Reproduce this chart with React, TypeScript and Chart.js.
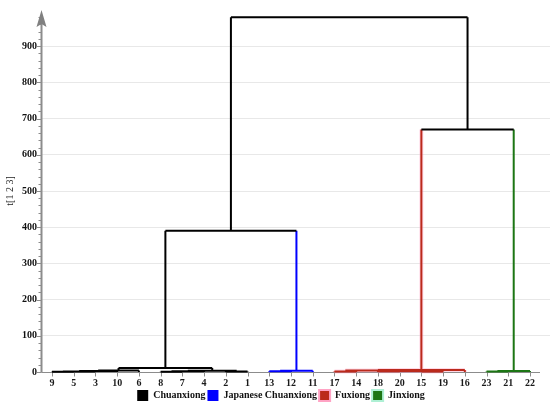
import React, { useEffect, useRef } from "react";
import { Chart, registerables } from "chart.js";

Chart.register(...registerables);

// Leaf order along the x axis (sample numbers)
const leafLabels = ["9", "5", "3", "10", "6", "8", "7", "4", "2", "1", "13", "12", "11", "17", "14", "18", "20", "15", "19", "16", "23", "21", "22"];

// Linkage (node ids < 23 are leaves by position; merge k creates node 23 + k)
const mergeLeft = [0, 23, 24, 25, 5, 27, 8, 28, 26, 10, 32, 13, 15, 17, 35, 34, 38, 20, 40, 31, 39, 42];
const mergeRight = [1, 2, 3, 4, 6, 7, 9, 29, 30, 11, 12, 14, 16, 18, 36, 37, 19, 21, 22, 33, 41, 43];
const mergeHeight = [1, 1.5, 2.5, 4, 1, 2, 1.5, 3.5, 11, 2, 3.5, 1.5, 2, 1.5, 3, 4, 5.5, 1.5, 3, 390, 670, 980];
const mergeGroup = [0, 0, 0, 0, 0, 0, 0, 0, 0, 1, 1, 2, 2, 2, 2, 2, 2, 3, 3, 0, 0, 0];

// Groups / legend
const groupNames = ["Chuanxiong", "Japanese Chuanxiong", "Fuxiong", "Jinxiong"];
const groupColors = ["#000000", "#0000ff", "#bb2a1c", "#1c7614"];
const legendBorders = ["#000000", "#0000ff", "#ffa3c4", "#aef0d4"];

// Axis
const yTickValues = Array.from({ length: 50 }, (_, i) => i * 20);
const yMax = 1000;
const xMin = -0.506;
const xMax = 22.92;
const xAxisEnd = 22.46;

function buildSegments() {
  const n = leafLabels.length;
  const nodeX: number[] = leafLabels.map((_, i) => i);
  const nodeH: number[] = leafLabels.map(() => 0);
  const nodeG: number[] = leafLabels.map(() => -1);
  const segs: { x: number; y: number | null }[][] = groupNames.map(() => []);
  mergeLeft.forEach((l, k) => {
    const r = mergeRight[k];
    const h = mergeHeight[k];
    const g = mergeGroup[k];
    const xl = nodeX[l];
    const xr = nodeX[r];
    const gl = nodeG[l] >= 0 ? nodeG[l] : g;
    const gr = nodeG[r] >= 0 ? nodeG[r] : g;
    segs[gl].push({ x: xl, y: nodeH[l] }, { x: xl, y: h }, { x: xl, y: null });
    segs[g].push({ x: xl, y: h }, { x: xr, y: h }, { x: xr, y: null });
    segs[gr].push({ x: xr, y: nodeH[r] }, { x: xr, y: h }, { x: xr, y: null });
    nodeX[n + k] = (xl + xr) / 2;
    nodeH[n + k] = h;
    nodeG[n + k] = g;
  });
  return segs;
}

const axisPlugin = {
  id: "axisDeco",
  beforeDatasetsDraw(chart: any) {
    const { ctx, chartArea, scales } = chart;
    const x = scales.x;
    const y = scales.y;
    const y0 = Math.round(y.getPixelForValue(0)) + 0.5;
    const left = Math.round(chartArea.left) + 0.5;
    ctx.save();
    ctx.strokeStyle = "#8c8c8c";
    ctx.lineWidth = 1;
    ctx.beginPath();
    ctx.moveTo(left, y0);
    ctx.lineTo(x.getPixelForValue(xAxisEnd), y0);
    leafLabels.forEach((_, i) => {
      const px = Math.round(x.getPixelForValue(i)) + 0.5;
      ctx.moveTo(px, y0);
      ctx.lineTo(px, y0 + 4);
    });
    y.ticks.forEach((t: any) => {
      const py = Math.round(y.getPixelForValue(t.value)) + 0.5;
      const len = t.value % 100 === 0 ? 5 : 3;
      ctx.moveTo(left - len, py);
      ctx.lineTo(left, py);
    });
    ctx.stroke();
    ctx.lineWidth = 2;
    ctx.beginPath();
    ctx.moveTo(left, y0);
    ctx.lineTo(left, chartArea.top + 14);
    ctx.stroke();
    ctx.fillStyle = "#808080";
    ctx.beginPath();
    ctx.moveTo(left, chartArea.top);
    ctx.lineTo(left - 5, chartArea.top + 17);
    ctx.lineTo(left, chartArea.top + 14);
    ctx.lineTo(left + 5, chartArea.top + 17);
    ctx.closePath();
    ctx.fill();
    ctx.restore();
  },
};

export default function App() {
  const canvasRef = useRef<HTMLCanvasElement | null>(null);

  useEffect(() => {
    if (!canvasRef.current) return;
    const segs = buildSegments();
    const serif = "'Liberation Serif', 'Times New Roman', serif";
    const datasets: any[] = segs.map((data, g) => ({
      label: groupNames[g],
      data,
      borderColor: groupColors[g],
      backgroundColor: groupColors[g],
      borderWidth: 2,
      pointRadius: 0,
      spanGaps: false,
      tension: 0,
      clip: false,
      order: 0,
    }));
    datasets.push({
      label: "halo",
      data: segs[2],
      borderColor: "rgba(255,160,195,0.4)",
      borderWidth: 4,
      pointRadius: 0,
      spanGaps: false,
      clip: false,
      order: 10,
    });

    const chart = new Chart(canvasRef.current, {
      type: "line",
      data: { datasets },
      options: {
        animation: false,
        responsive: false,
        events: [],
        layout: { padding: { left: 12, right: 0, top: 8, bottom: 0 } },
        plugins: {
          tooltip: { enabled: false },
          legend: {
            position: "bottom",
            labels: {
              boxWidth: 11,
              boxHeight: 11,
              padding: 2,
              color: "#111",
              font: { family: serif, size: 10, weight: "bold" },
              generateLabels: () =>
                groupNames.map((name, g) => ({
                  text: name,
                  fillStyle: groupColors[g],
                  strokeStyle: legendBorders[g],
                  lineWidth: g >= 2 ? 2 : 0,
                  hidden: false,
                  datasetIndex: g,
                  fontColor: "#111",
                })),
            },
          },
        },
        scales: {
          x: {
            type: "linear",
            min: xMin,
            max: xMax,
            border: { display: false },
            grid: { display: false, drawTicks: false },
            afterBuildTicks: (s: any) => {
              s.ticks = leafLabels.map((_, i) => ({ value: i }));
            },
            afterFit: (s: any) => {
              s.height = 16;
            },
            ticks: {
              autoSkip: false,
              maxRotation: 0,
              padding: 5,
              color: "#1a1a1a",
              font: { family: serif, size: 10, weight: "bold" },
              callback: (v: any) => leafLabels[Number(v)] ?? "",
            },
          },
          y: {
            type: "linear",
            min: 0,
            max: yMax,
            border: { display: false },
            afterBuildTicks: (s: any) => {
              s.ticks = yTickValues.map((v) => ({ value: v }));
            },
            afterFit: (s: any) => {
              s.width = 29;
            },
            grid: {
              drawTicks: false,
              color: (c: any) => (c.tick && c.tick.value % 100 === 0 && c.tick.value > 0 ? "#e8e8e8" : "rgba(0,0,0,0)"),
            },
            title: {
              display: true,
              text: "t[1 2 3]",
              color: "#222",
              font: { family: serif, size: 10 },
              padding: { top: -8, bottom: 0 },
            },
            ticks: {
              autoSkip: false,
              padding: 4,
              color: "#111",
              font: { family: serif, size: 10, weight: "bold" },
              callback: (v: any) => (Number(v) % 100 === 0 ? String(v) : ""),
            },
          },
        },
      },
      plugins: [axisPlugin],
    });
    return () => chart.destroy();
  }, []);

  return (
    <div style={{ position: "absolute", left: 0, top: 0, width: 550, height: 411, background: "#fff" }}>
      <canvas ref={canvasRef} width={550} height={411} style={{ display: "block" }} />
    </div>
  );
}
